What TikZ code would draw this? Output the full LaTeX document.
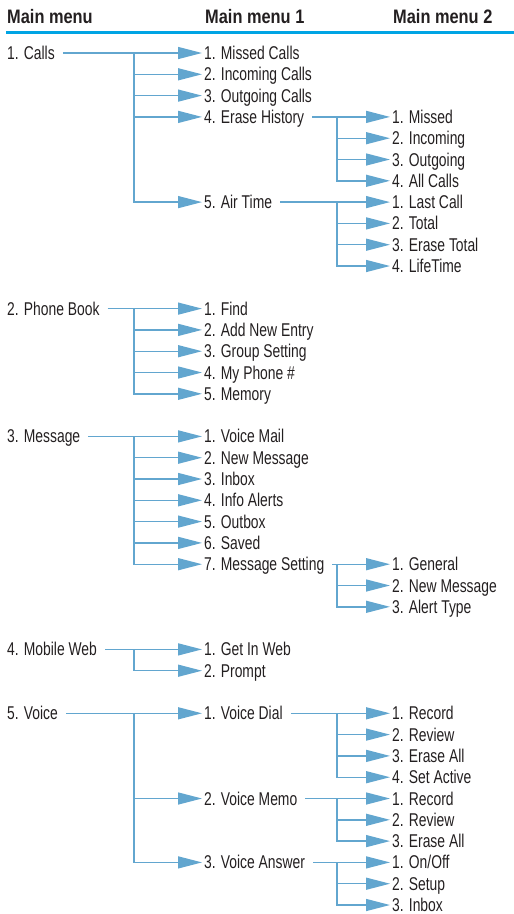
\documentclass[tikz,border=0pt]{standalone}
\usepackage{fontspec}
\setmainfont[FakeStretch=0.75]{Liberation Sans}
\newfontfamily\headfont[FakeStretch=0.84]{Liberation Sans Bold}
\usetikzlibrary{arrows.meta}

\begin{document}
\begin{tikzpicture}[x=1pt,y=-1pt,
  every node/.style={anchor=west,inner xsep=2pt,inner ysep=0pt,text height=13pt,text depth=0pt,text=ink,font=\fontsize{18.5}{20}\selectfont},
  head/.style={font=\headfont\fontsize{19.5}{20}\selectfont},
  link/.style={draw=wire,line width=1.4pt,-{Triangle[length=24pt,width=12pt,fill=wire]}},
  fromtext/.style={shorten <=6pt}]
  \definecolor{ink}{HTML}{231F20}
  \definecolor{wire}{HTML}{62A6CF}
  \definecolor{rulecol}{HTML}{00A4E4}
  \useasboundingbox (0,0) rectangle (514,914);
  % Column titles and the rule under them.
  \node[head] (hmain) at (5,17) {Main menu};
  \node[head] (hsub1) at (203,17) {Main menu 1};
  \node[head] (hsub2) at (391,17) {Main menu 2};
  \draw[rulecol,line width=3pt] (6,32) -- (514,32);
  % 1. Calls
  \node (calls) at (5,53) {1. Calls};
  \node (missedcalls) at (202,53) {1. Missed Calls};
  \node (incomingcalls) at (202,74.3) {2. Incoming Calls};
  \node (outgoingcalls) at (202,95.6) {3. Outgoing Calls};
  \node (erasehist) at (202,116.9) {4. Erase History};
  \node (airtime) at (202,202.1) {5. Air Time};
  \node (eh1) at (390,116.9) {1. Missed};
  \node (eh2) at (390,138.2) {2. Incoming};
  \node (eh3) at (390,159.5) {3. Outgoing};
  \node (eh4) at (390,180.8) {4. All Calls};
  \node (at1) at (390,202.1) {1. Last Call};
  \node (at2) at (390,223.4) {2. Total};
  \node (at3) at (390,244.7) {3. Erase Total};
  \node (at4) at (390,266) {4. LifeTime};
  \coordinate (callsbr) at (134,53);
  \coordinate (ehbr) at (337,116.9);
  \coordinate (atbr) at (337,202.1);
  \draw[link,fromtext] (calls.east) -- (missedcalls.west);
  \draw[link] (callsbr) |- (incomingcalls.west);
  \draw[link] (callsbr) |- (outgoingcalls.west);
  \draw[link] (callsbr) |- (erasehist.west);
  \draw[link] (callsbr) |- (airtime.west);
  \draw[link,fromtext] (erasehist.east) -- (eh1.west);
  \draw[link] (ehbr) |- (eh2.west);
  \draw[link] (ehbr) |- (eh3.west);
  \draw[link] (ehbr) |- (eh4.west);
  \draw[link,fromtext] (airtime.east) -- (at1.west);
  \draw[link] (atbr) |- (at2.west);
  \draw[link] (atbr) |- (at3.west);
  \draw[link] (atbr) |- (at4.west);
  % 2. Phone Book
  \node (phonebook) at (5,308.6) {2. Phone Book};
  \node (find) at (202,308.6) {1. Find};
  \node (addentry) at (202,329.9) {2. Add New Entry};
  \node (groupset) at (202,351.2) {3. Group Setting};
  \node (myphone) at (202,372.5) {4. My Phone \#};
  \node (memory) at (202,393.8) {5. Memory};
  \coordinate (pbbr) at (134,308.6);
  \draw[link,fromtext] (phonebook.east) -- (find.west);
  \draw[link] (pbbr) |- (addentry.west);
  \draw[link] (pbbr) |- (groupset.west);
  \draw[link] (pbbr) |- (myphone.west);
  \draw[link] (pbbr) |- (memory.west);
  % 3. Message
  \node (message) at (5,436.4) {3. Message};
  \node (voicemail) at (202,436.4) {1. Voice Mail};
  \node (newmsg) at (202,457.7) {2. New Message};
  \node (inbox) at (202,479) {3. Inbox};
  \node (infoalerts) at (202,500.3) {4. Info Alerts};
  \node (outbox) at (202,521.6) {5. Outbox};
  \node (saved) at (202,542.9) {6. Saved};
  \node (msgset) at (202,564.2) {7. Message Setting};
  \node (ms1) at (390,564.2) {1. General};
  \node (ms2) at (390,585.5) {2. New Message};
  \node (ms3) at (390,606.8) {3. Alert Type};
  \coordinate (msgbr) at (134,436.4);
  \coordinate (msbr) at (337,564.2);
  \draw[link,fromtext] (message.east) -- (voicemail.west);
  \draw[link] (msgbr) |- (newmsg.west);
  \draw[link] (msgbr) |- (inbox.west);
  \draw[link] (msgbr) |- (infoalerts.west);
  \draw[link] (msgbr) |- (outbox.west);
  \draw[link] (msgbr) |- (saved.west);
  \draw[link] (msgbr) |- (msgset.west);
  \draw[link,fromtext] (msgset.east) -- (ms1.west);
  \draw[link] (msbr) |- (ms2.west);
  \draw[link] (msbr) |- (ms3.west);
  % 4. Mobile Web
  \node (mobweb) at (5,649.4) {4. Mobile Web};
  \node (getweb) at (202,649.4) {1. Get In Web};
  \node (prompt) at (202,670.7) {2. Prompt};
  \coordinate (mwbr) at (134,649.4);
  \draw[link,fromtext] (mobweb.east) -- (getweb.west);
  \draw[link] (mwbr) |- (prompt.west);
  % 5. Voice
  \node (voice) at (5,713.3) {5. Voice};
  \node (vdial) at (202,713.3) {1. Voice Dial};
  \node (vmemo) at (202,798.5) {2. Voice Memo};
  \node (vanswer) at (202,862.4) {3. Voice Answer};
  \node (vd1) at (390,713.3) {1. Record};
  \node (vd2) at (390,734.6) {2. Review};
  \node (vd3) at (390,755.9) {3. Erase All};
  \node (vd4) at (390,777.2) {4. Set Active};
  \node (vm1) at (390,798.5) {1. Record};
  \node (vm2) at (390,819.8) {2. Review};
  \node (vm3) at (390,841.1) {3. Erase All};
  \node (va1) at (390,862.4) {1. On/Off};
  \node (va2) at (390,883.7) {2. Setup};
  \node (va3) at (390,905) {3. Inbox};
  \coordinate (vbr) at (134,713.3);
  \coordinate (vdbr) at (337,713.3);
  \coordinate (vmbr) at (337,798.5);
  \coordinate (vabr) at (337,862.4);
  \draw[link,fromtext] (voice.east) -- (vdial.west);
  \draw[link] (vbr) |- (vmemo.west);
  \draw[link] (vbr) |- (vanswer.west);
  \draw[link,fromtext] (vdial.east) -- (vd1.west);
  \draw[link] (vdbr) |- (vd2.west);
  \draw[link] (vdbr) |- (vd3.west);
  \draw[link] (vdbr) |- (vd4.west);
  \draw[link,fromtext] (vmemo.east) -- (vm1.west);
  \draw[link] (vmbr) |- (vm2.west);
  \draw[link] (vmbr) |- (vm3.west);
  \draw[link,fromtext] (vanswer.east) -- (va1.west);
  \draw[link] (vabr) |- (va2.west);
  \draw[link] (vabr) |- (va3.west);
\end{tikzpicture}
\end{document}
